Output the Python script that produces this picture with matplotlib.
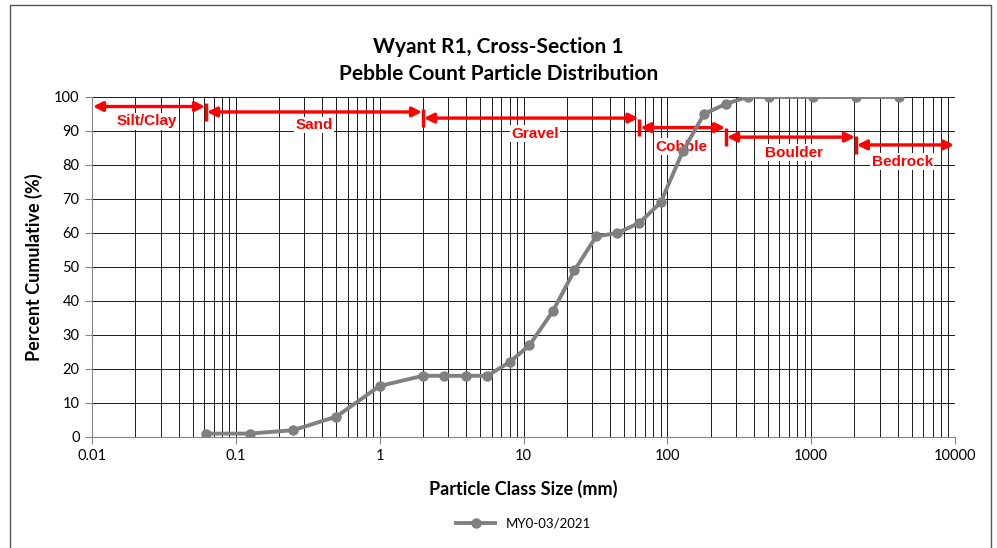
import matplotlib
matplotlib.use('Agg')
import matplotlib.pyplot as plt
from matplotlib.patches import Rectangle
from matplotlib.ticker import LogLocator, FixedLocator, NullFormatter

# Data (sieve sizes in mm, cumulative percent finer)
sizes = [0.062, 0.125, 0.25, 0.5, 1, 2, 2.8, 4, 5.6, 8, 11, 16, 22.6, 32, 45,
         64, 90, 128, 180, 256, 362, 512, 1024, 2048, 4096]
percent = [1, 1, 2, 6, 15, 18, 18, 18, 18, 22, 27, 37, 49, 59, 60,
           63, 69, 84, 95, 98, 100, 100, 100, 100, 100]
series_name = 'MY0-03/2021'

# Particle classes: name, start, end, arrow height, label height
class_names = ['Silt/Clay', 'Sand', 'Gravel', 'Cobble', 'Boulder', 'Bedrock']
class_lo = [0.01, 0.062, 2, 64, 256, 2048]
class_hi = [0.062, 2, 64, 256, 2048, 10000]
class_arrow_y = [97.2, 95.6, 93.8, 91.0, 88.2, 85.9]
class_label_y = [92.8, 91.8, 89.2, 85.4, 83.6, 81.0]
class_label_x = [0.024, 0.35, 12.0, 125, 760, 4300]

fig = plt.figure(figsize=(9.97, 5.48), dpi=100)
plt.rcParams['font.family'] = ['Lato', 'DejaVu Sans']

# outer chart border
fig.patches.append(Rectangle((10 / 997, -0.02), 981 / 997, 1 - 5 / 548 + 0.02,
                             transform=fig.transFigure, fill=False,
                             edgecolor='#555555', linewidth=1.0))

ax = fig.add_axes([92 / 997, 1 - 437 / 548, (955 - 92) / 997, (437 - 97) / 548])
ax.set_xscale('log')
ax.set_xlim(0.01, 10000)
ax.set_ylim(0, 100)

# grid
ax.xaxis.set_minor_locator(LogLocator(base=10, subs=range(2, 10), numticks=20))
ax.xaxis.set_minor_formatter(NullFormatter())
ax.set_xticks([0.01, 0.1, 1, 10, 100, 1000, 10000])
ax.set_xticklabels(['0.01', '0.1', '1', '10', '100', '1000', '10000'])
ax.yaxis.set_major_locator(FixedLocator(range(0, 101, 10)))
ax.grid(True, which='both', axis='x', color='#1a1a1a', linewidth=0.7)
ax.grid(True, which='major', axis='y', color='#1a1a1a', linewidth=0.7)
ax.set_axisbelow(True)

ax.tick_params(axis='x', which='major', direction='out', length=5, color='#868686',
               labelsize=10.5, pad=4)
ax.tick_params(axis='x', which='minor', length=0)
ax.tick_params(axis='y', direction='out', length=5, color='#868686', labelsize=10.5, pad=4)
for side in ['left', 'bottom']:
    ax.spines[side].set_color('#868686')
for side in ['top', 'right']:
    ax.spines[side].set_visible(False)

# class arrows
for name, lo, hi, ya, yl, xl in zip(class_names, class_lo, class_hi,
                                    class_arrow_y, class_label_y, class_label_x):
    ax.annotate('', xy=(hi * 0.985, ya), xytext=(lo * 1.015, ya),
                arrowprops=dict(arrowstyle='<|-|>', color='red', lw=2.4,
                                mutation_scale=14, shrinkA=0, shrinkB=0))
    if lo > 0.01:
        ax.plot([lo, lo], [ya - 2.6, ya + 2.6], color='red', lw=2.5, solid_capstyle='butt')
    ax.text(xl, yl, name, color='red', fontsize=11, fontweight='bold', ha='center',
            va='center', family=['Liberation Sans', 'DejaVu Sans'],
            bbox=dict(facecolor='white', edgecolor='none', pad=1.0))

ax.plot(sizes, percent, color='#808080', linewidth=2.8, marker='o', markersize=6.5,
        label=series_name, zorder=5)

fig.text(0.5, 1 - 47 / 548, 'Wyant R1, Cross-Section 1', ha='center', va='center',
         fontsize=15, fontweight='bold')
fig.text(0.5, 1 - 74 / 548, 'Pebble Count Particle Distribution', ha='center',
         va='center', fontsize=15, fontweight='bold')
ax.set_xlabel('Particle Class Size (mm)', fontsize=13, fontweight='bold', labelpad=12)
ax.set_ylabel('Percent Cumulative (%)', fontsize=13, fontweight='bold', labelpad=8)

ax.legend(loc='center', bbox_to_anchor=(0.5, -0.255), frameon=False, fontsize=9.5,
          handlelength=3.0)

fig.savefig('out.png', dpi=100)
